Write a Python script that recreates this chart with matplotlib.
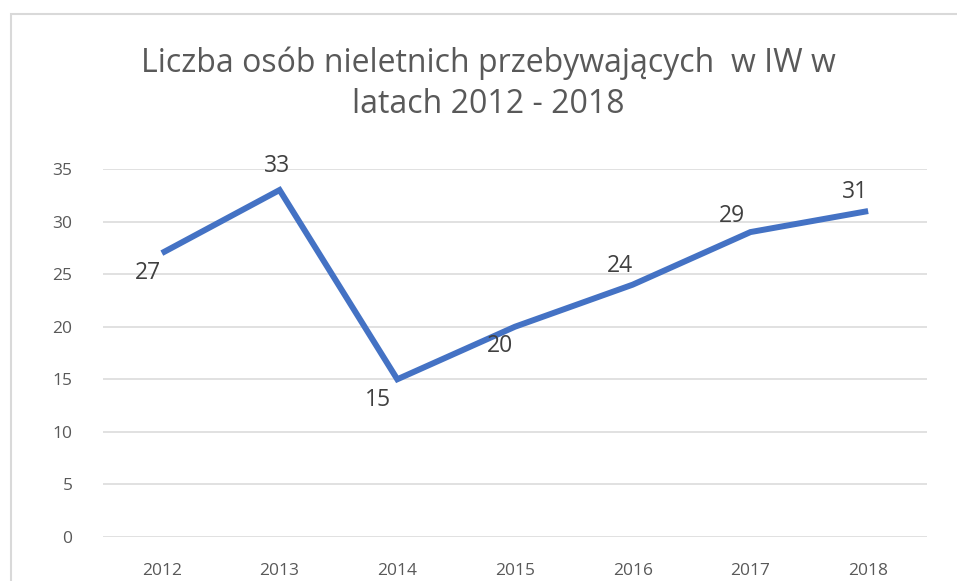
import matplotlib
matplotlib.use("Agg")
import matplotlib.pyplot as plt
import matplotlib.patches as patches
import numpy as np

years = ["2012", "2013", "2014", "2015", "2016", "2017", "2018"]
counts = [27, 33, 15, 20, 24, 29, 31]
yticks = [0, 5, 10, 15, 20, 25, 30, 35]
title = "Liczba osób nieletnich przebywających  w IW w\nlatach 2012 - 2018"

# label offsets in pixels, roughly where Excel put them
offsets = [(-14, -20), (-3, 24), (-19, -21), (-15, -19), (-13, 19), (-18, 16), (-13, 19)]

plt.rcParams['font.family'] = ['Open Sans', 'DejaVu Sans']

fig = plt.figure(figsize=(9.57, 5.81), dpi=100)
ax = fig.add_axes([103 / 957, 44 / 581, 824 / 957, 368 / 581])

x = np.arange(len(years))
ax.plot(x, counts, color="#4472C4", lw=4.3, solid_joinstyle="miter",
        solid_capstyle="butt", clip_on=False, zorder=3)

for xi, v, off in zip(x, counts, offsets):
    ax.annotate(str(v), xy=(xi, v), xytext=off, textcoords="offset pixels",
                ha="center", va="center", fontsize=16.5, color="#404040")

ax.set_xlim(-0.5, len(years) - 0.5)
ax.set_ylim(0, 35)
ax.set_yticks(yticks)
ax.set_xticks(x)
ax.set_xticklabels(years)
ax.grid(axis="y", color="#d9d9d9", lw=1.1)
ax.set_axisbelow(True)
for s in ax.spines.values():
    s.set_visible(False)
ax.tick_params(length=0, labelsize=12.5, labelcolor="#595959")
ax.tick_params(axis="y", pad=22)
ax.tick_params(axis="x", pad=19)

fig.text(488 / 957, 1 - 84 / 581, title, ha="center", va="center",
         fontsize=23, color="#595959", linespacing=1.3)

# chart frame (partly cut off on the right and bottom)
fig.patches.append(patches.Rectangle((11 / 957, -0.2), 2, 1.2 - 14 / 581,
                                     transform=fig.transFigure, fill=False,
                                     edgecolor="#d9d9d9", lw=1.5))

fig.savefig("out.png", dpi=100)
